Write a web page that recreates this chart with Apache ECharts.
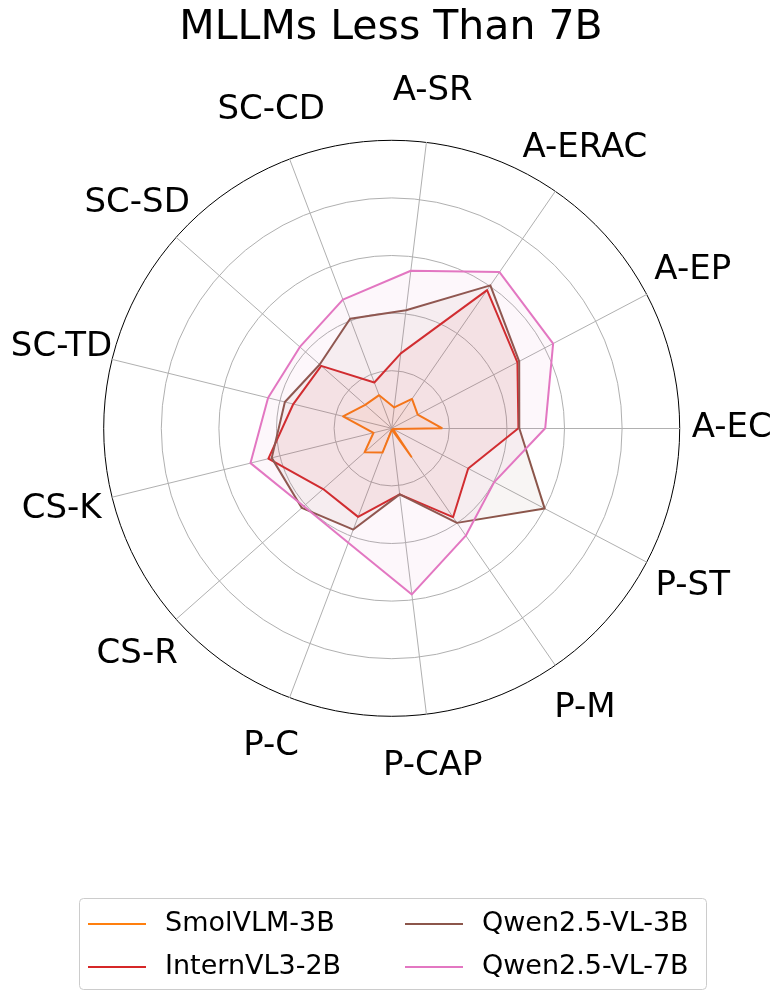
<!DOCTYPE html>
<html>
<head>
<meta charset="utf-8">
<script src="https://cdn.jsdelivr.net/npm/echarts@6/dist/echarts.min.js"></script>
<style>
  html, body { margin: 0; padding: 0; background: #fff; }
  #chart { width: 782px; height: 1000px; }
</style>
</head>
<body>
<div id="chart"></div>
<script>
// axes, counter-clockwise from the right
var categories = ['A-EC', 'A-EP', 'A-ERAC', 'A-SR', 'SC-CD', 'SC-SD', 'SC-TD',
                  'CS-K', 'CS-R', 'P-C', 'P-CAP', 'P-M', 'P-ST'];
var modelNames = ['SmolVLM-3B', 'InternVL3-2B', 'Qwen2.5-VL-3B', 'Qwen2.5-VL-7B'];
var smolVLM3B   = [17.6, 10.2, 12.4, 7.3, 12.3, 12.3, 17.4, 6.5, 12.6, 9.0, 0.5, 12.0, 0.5];
var internVL32B = [44.0, 49.3, 58.3, 26.2, 17.0, 32.7, 35.2, 44.1, 31.8, 32.9, 23.1, 37.5, 30.0];
var qwen25VL3B  = [44.3, 50.0, 60.3, 41.3, 40.7, 33.4, 38.2, 42.9, 41.7, 37.6, 23.1, 39.9, 60.0];
var qwen25VL7B  = [53.3, 63.3, 65.9, 55.1, 47.8, 42.6, 44.2, 50.5, 40.8, 42.5, 58.1, 45.3, 40.2];
var radarMax = 100;

var colors = ['#ff7f0e', '#d62728', '#8c564b', '#e377c2'];
var seriesValues = [smolVLM3B, internVL32B, qwen25VL3B, qwen25VL7B];

var cx = 391.7, cy = 428.3, R = 288, labelR = 340;
var font = 'DejaVu Sans';

var chart = echarts.init(document.getElementById('chart'), null, { renderer: 'canvas' });

// axis names sit centred on a ring outside the plot, like matplotlib does
var labelGraphics = categories.map(function (name, i) {
    var a = i * 2 * Math.PI / categories.length;
    return {
        type: 'text',
        x: cx + labelR * Math.cos(a),
        y: cy - labelR * Math.sin(a),
        style: {
            text: name,
            fill: '#000',
            font: '34px "' + font + '"',
            textAlign: 'center',
            textVerticalAlign: 'middle'
        },
        z: 10
    };
});

// legend frame
labelGraphics.push({
    type: 'rect',
    shape: { x: 79.5, y: 898.5, width: 627, height: 91, r: 4 },
    style: { fill: 'rgba(255,255,255,0.8)', stroke: '#cccccc', lineWidth: 1 },
    z: 1
});

function legendCol(names, left) {
    return {
        data: names,
        orient: 'vertical',
        left: left,
        top: 904,
        icon: 'rect',
        itemWidth: 58,
        itemHeight: 2,
        itemGap: 13,
        z: 5,
        textStyle: { fontFamily: font, fontSize: 27, color: '#000', lineHeight: 30, padding: [0, 0, 0, 14] }
    };
}

var option = {
    animation: false,
    backgroundColor: '#fff',
    color: colors,
    title: {
        text: 'MLLMs Less Than 7B',
        left: 'center',
        top: 3,
        textStyle: { fontFamily: font, fontSize: 41, fontWeight: 'normal', color: '#000' }
    },
    legend: [
        legendCol([modelNames[0], modelNames[1]], 83),
        legendCol([modelNames[2], modelNames[3]], 400)
    ],
    radar: {
        center: [cx, cy],
        radius: R,
        startAngle: 0,
        shape: 'circle',
        splitNumber: 5,
        indicator: categories.map(function (c) { return { name: c, min: 0, max: radarMax }; }),
        axisName: { show: false },
        axisTick: { show: false },
        axisLabel: { show: false },
        axisLine: { lineStyle: { color: '#b0b0b0', width: 1 } },
        splitLine: {
            lineStyle: {
                color: ['#b0b0b0', '#b0b0b0', '#b0b0b0', '#b0b0b0', '#b0b0b0', '#000000'],
                width: 1
            }
        },
        splitArea: { show: false }
    },
    series: seriesValues.map(function (vals, i) {
        return {
            name: modelNames[i],
            type: 'radar',
            symbol: 'none',
            z: 2 + i,
            lineStyle: { color: colors[i], width: 2 },
            itemStyle: { color: colors[i] },
            areaStyle: { color: colors[i], opacity: 0.06 },
            data: [{ value: vals, name: modelNames[i] }]
        };
    }),
    graphic: labelGraphics
};

chart.setOption(option);
</script>
</body>
</html>
